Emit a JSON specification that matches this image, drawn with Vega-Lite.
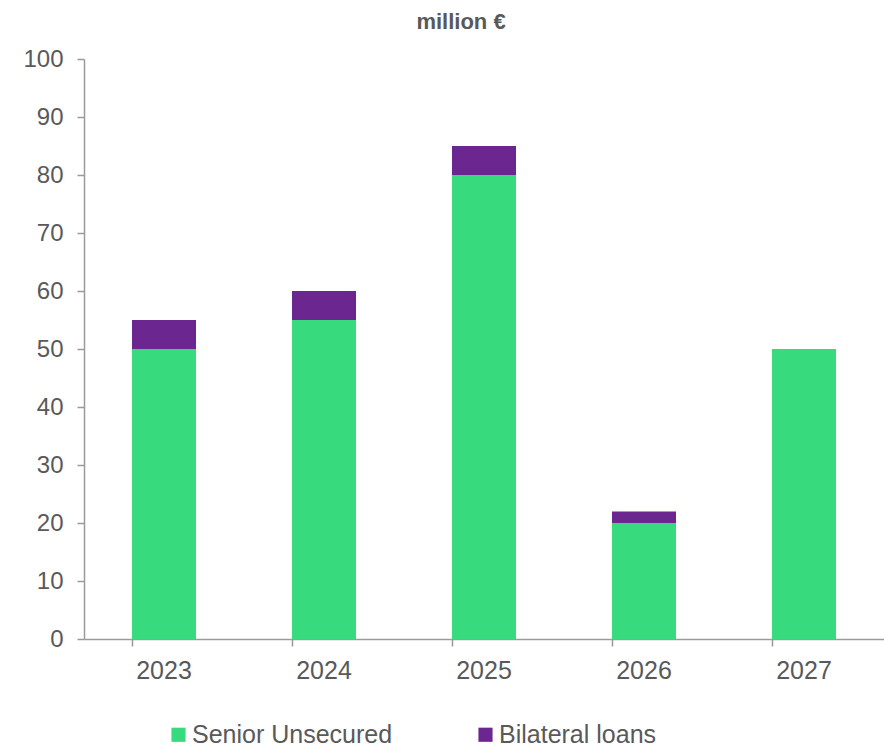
{
  "$schema": "https://vega.github.io/schema/vega-lite/v6.json",
  "width": 800,
  "height": 580,
  "autosize": {"type": "none"},
  "padding": {"left": 84, "top": 59, "right": 0, "bottom": 109},
  "background": "white",
  "title": {
    "text": "million €",
    "font": "Liberation Sans",
    "fontSize": 22,
    "fontWeight": "bold",
    "color": "#595959",
    "anchor": "middle",
    "dx": -23,
    "baseline": "alphabetic",
    "frame": "group",
    "offset": -4
  },
  "data": {
    "values": [
      {"year": "2023", "type": "Senior Unsecured", "idx": 0, "value": 50},
      {"year": "2023", "type": "Bilateral loans", "idx": 1, "value": 5},
      {"year": "2024", "type": "Senior Unsecured", "idx": 0, "value": 55},
      {"year": "2024", "type": "Bilateral loans", "idx": 1, "value": 5},
      {"year": "2025", "type": "Senior Unsecured", "idx": 0, "value": 80},
      {"year": "2025", "type": "Bilateral loans", "idx": 1, "value": 5},
      {"year": "2026", "type": "Senior Unsecured", "idx": 0, "value": 20},
      {"year": "2026", "type": "Bilateral loans", "idx": 1, "value": 2},
      {"year": "2027", "type": "Senior Unsecured", "idx": 0, "value": 50}
    ]
  },
  "resolve": {"axis": {"x": "independent"}},
  "layer": [
    {
      "mark": {"type": "bar"},
      "encoding": {
        "x": {
          "field": "year",
          "type": "ordinal",
          "scale": {"paddingInner": 0.6, "paddingOuter": 0.3},
          "axis": {
            "title": null,
            "orient": "bottom",
            "labelAngle": 0,
            "ticks": false,
            "labelFontSize": 25,
            "labelPadding": 19
          }
        },
        "y": {
          "field": "value",
          "type": "quantitative",
          "stack": "zero",
          "scale": {"domain": [0, 100], "nice": false},
          "axis": {
            "title": null,
            "values": [0, 10, 20, 30, 40, 50, 60, 70, 80, 90, 100],
            "grid": false,
            "labelFontSize": 24,
            "labelPadding": 14
          }
        },
        "color": {
          "field": "type",
          "type": "nominal",
          "scale": {
            "domain": ["Senior Unsecured", "Bilateral loans"],
            "range": ["#37DB7E", "#6B278F"]
          },
          "legend": {
            "title": null,
            "orient": "none",
            "legendX": 82,
            "legendY": 663,
            "direction": "horizontal",
            "symbolType": "square",
            "symbolSize": 200,
            "symbolStrokeWidth": 0,
            "labelFontSize": 25,
            "labelLimit": 400,
            "labelOffset": 1,
            "columnPadding": 80,
            "padding": 0
          }
        },
        "order": {"field": "idx", "type": "quantitative"}
      }
    },
    {
      "mark": {"type": "bar", "opacity": 0},
      "encoding": {
        "x": {
          "field": "year",
          "type": "ordinal",
          "axis": {
            "title": null,
            "orient": "bottom",
            "labels": false,
            "domain": false,
            "ticks": true,
            "bandPosition": 0
          }
        },
        "y": {"field": "value", "type": "quantitative", "stack": "zero"}
      }
    }
  ],
  "config": {
    "view": {"stroke": null},
    "font": "Liberation Sans",
    "axis": {
      "domainColor": "#9A9A9A",
      "domainWidth": 1.5,
      "tickColor": "#9A9A9A",
      "tickWidth": 1.5,
      "tickSize": 7,
      "labelColor": "#595959",
      "labelFont": "Liberation Sans"
    },
    "legend": {
      "labelColor": "#595959",
      "labelFont": "Liberation Sans"
    }
  }
}
